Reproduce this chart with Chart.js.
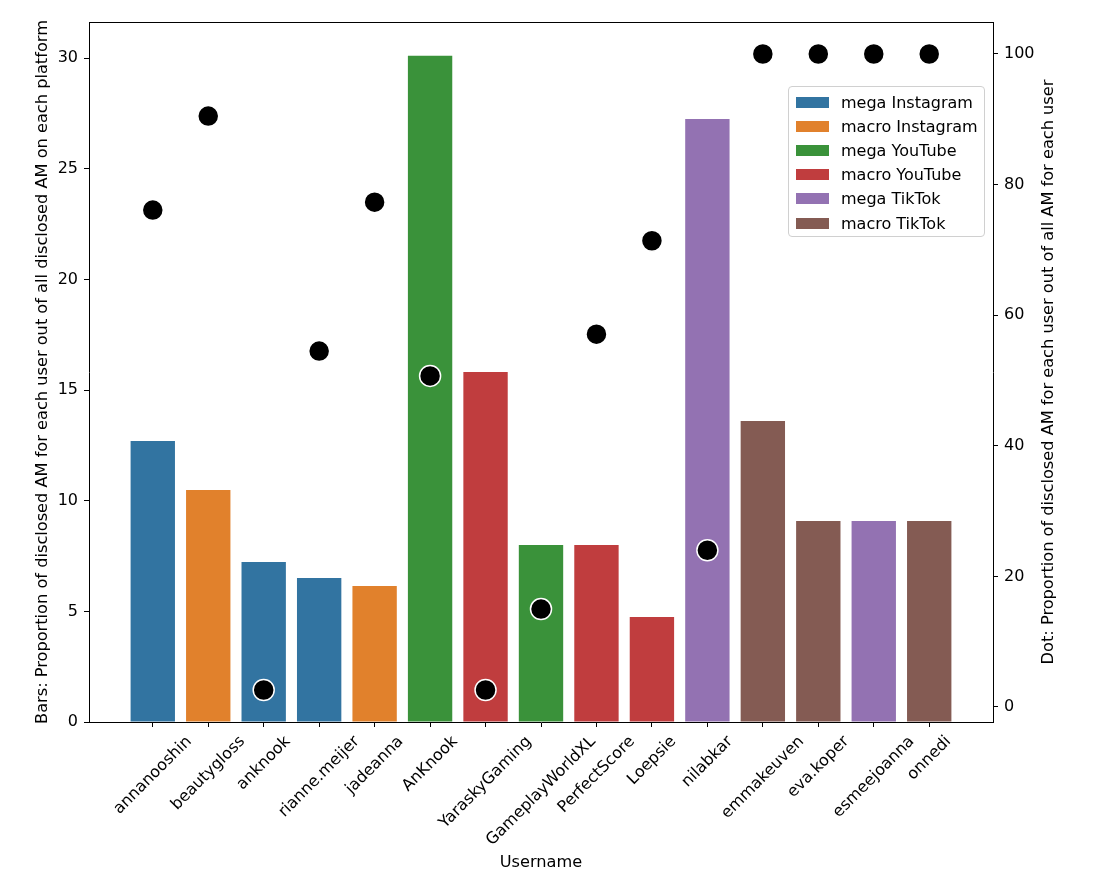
<!DOCTYPE html>
<html>
<head>
<meta charset="utf-8">
<title>Disclosed AM per user</title>
<script src="https://cdn.jsdelivr.net/npm/chart.js"></script>
<style>
  body { margin: 0; background: #fff; }
  #wrap { position: relative; width: 1107px; height: 894px; }
  #legend {
    position: absolute; left: 788px; top: 86px; width: 197px; height: 151px;
    border: 1px solid #d0d0d0; border-radius: 4px; background: rgba(255,255,255,0.8);
    font-family: 'DejaVu Sans', sans-serif; font-size: 16px; color: #000;
    padding-top: 3px; box-sizing: border-box;
  }
  .row { display: flex; align-items: center; height: 24.2px; }
  .patch { width: 33px; height: 11px; margin-left: 7px; margin-right: 12px; }
</style>
</head>
<body>
<div id="wrap">
  <canvas id="chart"></canvas>
  <div id="legend"></div>
</div>
<script>
// data
const usernames = ['annanooshin', 'beautygloss', 'anknook', 'rianne.meijer', 'jadeanna', 'AnKnook',
  'YaraskyGaming', 'GameplayWorldXL', 'PerfectScore', 'Loepsie', 'nilabkar', 'emmakeuven',
  'eva.koper', 'esmeejoanna', 'onnedi'];
const barValues = [12.7, 10.48, 7.23, 6.51, 6.15, 30.1, 15.82, 8.0, 8.0, 4.74, 27.25, 13.6, 9.08, 9.08, 9.08];
const dotValues = [76.1, 90.5, 2.6, 54.5, 77.3, 50.7, 2.6, 15.0, 57.1, 71.4, 24.0, 100, 100, 100, 100];
const userGroup = ['mega Instagram', 'macro Instagram', 'mega Instagram', 'mega Instagram', 'macro Instagram',
  'mega YouTube', 'macro YouTube', 'mega YouTube', 'macro YouTube', 'macro YouTube',
  'mega TikTok', 'macro TikTok', 'macro TikTok', 'mega TikTok', 'macro TikTok'];
const groups = ['mega Instagram', 'macro Instagram', 'mega YouTube', 'macro YouTube', 'mega TikTok', 'macro TikTok'];
const groupColors = ['#3274a1', '#e1812c', '#3a923a', '#c03d3e', '#9372b2', '#845b53'];
const leftTicks = [0, 5, 10, 15, 20, 25, 30];
const rightTicks = [0, 20, 40, 60, 80, 100];

const FONT = 'DejaVu Sans';
const FSIZE = 16;      // tick labels
const TSIZE = 16.2;    // axis titles
Chart.defaults.font.family = FONT;
Chart.defaults.font.size = FSIZE;
Chart.defaults.color = '#000';

// legend box (html, inside the plot like the original)
const legendEl = document.getElementById('legend');
groups.forEach((g, i) => {
  const row = document.createElement('div');
  row.className = 'row';
  row.innerHTML = `<span class="patch" style="background:${groupColors[i]}"></span><span>${g}</span>`;
  legendEl.appendChild(row);
});

const barColors = userGroup.map(g => groupColors[groups.indexOf(g)]);

// rotated x labels centred on the tick, and the right axis title reading upwards
const extrasPlugin = {
  id: 'extras',
  afterDraw(chart) {
    const ctx = chart.ctx;
    const area = chart.chartArea;
    const xs = chart.scales.x;
    ctx.save();
    ctx.strokeStyle = '#000';
    ctx.lineWidth = 1;
    ctx.beginPath();
    ctx.moveTo(area.left, Math.round(area.top) + 0.5);
    ctx.lineTo(area.right, Math.round(area.top) + 0.5);
    ctx.stroke();

    ctx.font = `${FSIZE}px '${FONT}'`;
    ctx.fillStyle = '#000';
    ctx.textAlign = 'right';
    ctx.textBaseline = 'middle';
    const h = FSIZE * 1.17;
    const y0 = area.bottom + 5 + 5.4;
    usernames.forEach((name, i) => {
      const px = xs.getPixelForValue(i);
      const w = ctx.measureText(name).width;
      ctx.save();
      ctx.translate(px + 0.354 * w, y0 + 0.354 * h);
      ctx.rotate(-Math.PI / 4);
      ctx.fillText(name, 0, 0);
      ctx.restore();
    });

    ctx.font = `${TSIZE}px '${FONT}'`;
    ctx.textAlign = 'center';
    ctx.translate(1049, (area.top + area.bottom) / 2);
    ctx.rotate(-Math.PI / 2);
    ctx.fillText('Dot: Proportion of disclosed AM for each user out of all AM for each user', 0, 0);
    ctx.restore();
  }
};

const axisGrid = { display: true, drawOnChartArea: false, drawTicks: true, tickLength: 5, color: '#000', lineWidth: 1, offset: false };

new Chart(document.getElementById('chart'), {
  type: 'bar',
  data: {
    datasets: [
      {
        type: 'scatter',
        label: 'dots',
        data: dotValues.map((v, i) => ({ x: i, y: v })),
        xAxisID: 'x',
        yAxisID: 'y2',
        backgroundColor: '#000',
        borderColor: '#fff',
        borderWidth: 1.5,
        pointRadius: 10.5,
        order: 0
      },
      {
        type: 'bar',
        label: 'bars',
        data: barValues.map((v, i) => ({ x: i, y: v })),
        xAxisID: 'x',
        yAxisID: 'y',
        backgroundColor: barColors,
        barPercentage: 1,
        categoryPercentage: 0.8,
        order: 1
      }
    ]
  },
  options: {
    responsive: true,
    maintainAspectRatio: false,
    animation: false,
    layout: { padding: { top: 22, left: 0, right: 0, bottom: 0 } },
    plugins: { legend: { display: false }, tooltip: { enabled: false } },
    scales: {
      x: {
        type: 'linear',
        offset: false,
        min: -1.15,
        max: 15.15,
        afterBuildTicks: s => { s.ticks = usernames.map((_, i) => ({ value: i })); },
        afterFit: s => { s.height = 172; },
        ticks: { display: false },
        grid: axisGrid,
        border: { display: true, color: '#000', width: 1 },
        title: { display: true, text: 'Username', color: '#000', font: { size: TSIZE }, padding: { top: 0, bottom: 21 } }
      },
      y: {
        position: 'left',
        min: 0,
        max: 31.63,
        afterBuildTicks: s => { s.ticks = leftTicks.map(v => ({ value: v })); },
        afterFit: s => { s.width = 89; },
        ticks: { padding: 6, color: '#000', font: { size: FSIZE } },
        grid: axisGrid,
        border: { display: true, color: '#000', width: 1 },
        title: {
          display: true,
          text: 'Bars: Proportion of disclosed AM for each user out of all disclosed AM on each platform',
          color: '#000', font: { size: TSIZE }, padding: { top: 33, bottom: 0 }
        }
      },
      y2: {
        position: 'right',
        min: -2.3,
        max: 104.9,
        afterBuildTicks: s => { s.ticks = rightTicks.map(v => ({ value: v })); },
        afterFit: s => { s.width = 114; },
        ticks: { padding: 6, color: '#000', font: { size: FSIZE } },
        grid: axisGrid,
        border: { display: true, color: '#000', width: 1 },
        title: { display: false }
      }
    }
  },
  plugins: [extrasPlugin]
});
</script>
</body>
</html>
